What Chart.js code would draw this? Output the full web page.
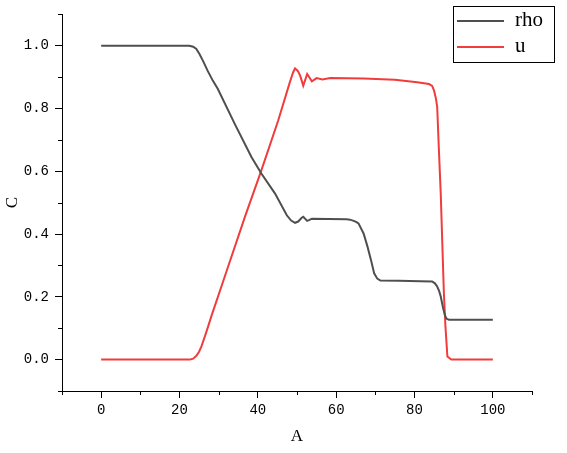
<!DOCTYPE html>
<html>
<head>
<meta charset="utf-8">
<script src="https://cdn.jsdelivr.net/npm/chart.js@4/dist/chart.umd.min.js"></script>
<style>
  html, body { margin: 0; padding: 0; background: #fff; }
  canvas { display: block; }
</style>
</head>
<body>
<canvas id="chart" width="567" height="453"></canvas>
<script>
// values
const rhoX = [0, 22.5, 23.5, 24.3, 25.1, 26.0, 27.2, 28.5, 29.8, 34.1, 38.4, 40.9, 44.4, 47.4, 48.5, 49.5, 50.3, 51.2, 51.6, 52.6, 53.2, 53.8, 58, 62.7, 63.5, 64.5, 65.2, 65.7, 67.0, 68.0, 68.9, 69.7, 70.5, 71.3, 76, 81.5, 84.5, 85.2, 85.8, 86.3, 86.7, 87.3, 87.8, 88.2, 88.8, 100];
const rhoY = [1.0, 1.0, 0.997, 0.99, 0.974, 0.952, 0.92, 0.889, 0.862, 0.751, 0.645, 0.593, 0.529, 0.46, 0.443, 0.436, 0.44, 0.452, 0.455, 0.442, 0.445, 0.449, 0.448, 0.447, 0.446, 0.442, 0.438, 0.434, 0.402, 0.36, 0.317, 0.275, 0.258, 0.252, 0.251, 0.25, 0.249, 0.243, 0.233, 0.218, 0.201, 0.164, 0.14, 0.13, 0.127, 0.127];

const uX = [0, 22.6, 23.5, 24.3, 25.0, 25.6, 26.5, 27.3, 28.1, 32.4, 36.7, 40.9, 45.2, 48.2, 49.0, 49.5, 50.2, 50.8, 51.6, 52.6, 53.8, 55.0, 56.5, 58.5, 67, 75, 80.7, 83.7, 84.5, 85.0, 85.5, 85.8, 86.2, 86.7, 87.1, 87.5, 87.9, 88.4, 89.4, 100];
const uY = [0, 0, 0.003, 0.012, 0.025, 0.042, 0.075, 0.105, 0.137, 0.296, 0.455, 0.603, 0.762, 0.885, 0.915, 0.928, 0.92, 0.905, 0.873, 0.91, 0.887, 0.897, 0.893, 0.897, 0.896, 0.892, 0.884, 0.878, 0.872, 0.857, 0.83, 0.804, 0.677, 0.529, 0.37, 0.212, 0.106, 0.01, 0, 0];

const seriesNames = ["rho", "u"];
const xLabels = [0, 20, 40, 60, 80, 100];
const yLabels = [0.0, 0.2, 0.4, 0.6, 0.8, 1.0];

const toPoints = (xs, ys) => xs.map((x, i) => ({ x: x, y: ys[i] }));

const isMajorX = v => xLabels.some(l => Math.abs(l - v) < 1e-6);
const isMajorY = v => yLabels.some(l => Math.abs(l - v) < 1e-6);

// minor ticks (short) drawn by hand, major ones come from the grid
const minorTicks = {
  id: "minorTicks",
  afterDraw(chart) {
    const ctx = chart.ctx;
    const xs = chart.scales.x, ys = chart.scales.y;
    ctx.save();
    ctx.strokeStyle = "#000";
    ctx.lineWidth = 1;
    ctx.beginPath();
    xs.ticks.forEach(t => {
      if (isMajorX(t.value)) return;
      const px = Math.round(xs.getPixelForValue(t.value)) + 0.5;
      ctx.moveTo(px, xs.top);
      ctx.lineTo(px, xs.top + 4);
    });
    ys.ticks.forEach(t => {
      if (isMajorY(t.value)) return;
      const py = Math.round(ys.getPixelForValue(t.value)) + 0.5;
      ctx.moveTo(ys.right, py);
      ctx.lineTo(ys.right - 4, py);
    });
    ctx.stroke();
    ctx.restore();
  }
};

// boxed legend in the top right corner
const boxLegend = {
  id: "boxLegend",
  afterDraw(chart) {
    const ctx = chart.ctx;
    ctx.save();
    ctx.strokeStyle = "#000";
    ctx.lineWidth = 1;
    ctx.strokeRect(453.5, 6.5, 101, 56);
    ctx.font = "21px 'Liberation Serif', serif";
    ctx.textBaseline = "middle";
    ctx.fillStyle = "#000";
    chart.data.datasets.forEach((ds, i) => {
      const y = 21 + i * 26;
      ctx.strokeStyle = ds.borderColor;
      ctx.lineWidth = 2;
      ctx.beginPath();
      ctx.moveTo(457, y);
      ctx.lineTo(504, y);
      ctx.stroke();
      ctx.fillText(ds.label, 515, y - 1);
    });
    ctx.restore();
  }
};

new Chart(document.getElementById("chart"), {
  type: "line",
  data: {
    datasets: [
      { label: seriesNames[0], data: toPoints(rhoX, rhoY), borderColor: "#4f4f4f", borderWidth: 2, pointRadius: 0, tension: 0 },
      { label: seriesNames[1], data: toPoints(uX, uY), borderColor: "#f03c3c", borderWidth: 2, pointRadius: 0, tension: 0 }
    ]
  },
  options: {
    responsive: false,
    animation: false,
    layout: { padding: { top: 13, right: 35, left: 0, bottom: 0 } },
    plugins: { legend: { display: false }, tooltip: { enabled: false } },
    scales: {
      x: {
        type: "linear",
        min: -10, max: 110,
        afterFit(s) { s.height = 62; },
        border: { display: true, color: "#000", width: 1 },
        grid: {
          display: true, drawOnChartArea: false, drawTicks: true, tickLength: 7,
          tickColor: c => isMajorX(c.tick.value) ? "#000" : "rgba(0,0,0,0)"
        },
        ticks: {
          stepSize: 10, autoSkip: false, maxRotation: 0, padding: 4, color: "#000",
          font: { family: "'Liberation Mono', monospace", size: 14 },
          callback: v => isMajorX(v) ? String(Math.round(v)) : ""
        },
        title: {
          display: true, text: "A", color: "#000",
          font: { family: "'Liberation Serif', serif", size: 17 },
          padding: { top: 0, bottom: 6 }
        }
      },
      y: {
        min: -0.1, max: 1.1,
        afterFit(s) { s.width = 62; },
        border: { display: true, color: "#000", width: 1 },
        grid: {
          display: true, drawOnChartArea: false, drawTicks: true, tickLength: 7,
          tickColor: c => isMajorY(c.tick.value) ? "#000" : "rgba(0,0,0,0)"
        },
        ticks: {
          stepSize: 0.1, autoSkip: false, padding: 6, color: "#000",
          font: { family: "'Liberation Mono', monospace", size: 14 },
          callback: v => isMajorY(v) ? v.toFixed(1) : ""
        },
        title: {
          display: true, text: "C", color: "#000",
          font: { family: "'Liberation Serif', serif", size: 17 },
          padding: { top: 2, bottom: 0 }
        }
      }
    }
  },
  plugins: [minorTicks, boxLegend]
});
</script>
</body>
</html>
